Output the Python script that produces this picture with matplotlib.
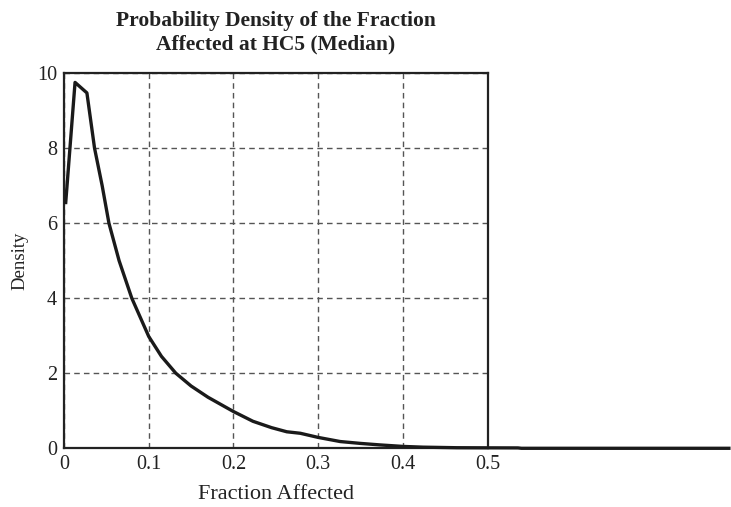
import matplotlib.pyplot as plt

# density of the fraction affected at HC5 (median)
fraction = [0.002, 0.013, 0.027, 0.036, 0.045, 0.053, 0.065, 0.080,
            0.100, 0.115, 0.132, 0.150, 0.170, 0.200, 0.223, 0.245,
            0.263, 0.279, 0.300, 0.326, 0.350, 0.373, 0.400, 0.424,
            0.464, 0.500, 0.536, 0.540, 0.785]
density = [6.55, 9.75, 9.47, 8.0, 7.0, 6.0, 5.0, 4.0,
           2.98, 2.45, 2.0, 1.66, 1.36, 0.98, 0.72, 0.55,
           0.44, 0.40, 0.29, 0.18, 0.13, 0.09, 0.05, 0.03,
           0.015, 0.012, 0.01, 0.0, 0.0]

xticks = [0, 0.1, 0.2, 0.3, 0.4, 0.5]
xtick_labels = ['0', '0.1', '0.2', '0.3', '0.4', '0.5']
yticks = [0, 2, 4, 6, 8, 10]

plt.rcParams['font.family'] = ['Liberation Serif', 'DejaVu Serif']

fig = plt.figure(figsize=(7.31, 5.07), dpi=100)
ax = fig.add_axes([0.0876, 0.1158, 0.5793, 0.7402])

# the curve runs on past the right edge of the frame
ax.plot(fraction, density, color='#1a1a1a', linewidth=2.4, clip_on=False, zorder=3)

ax.set_xlim(0, 0.5)
ax.set_ylim(0, 10)
ax.set_xticks(xticks)
ax.set_xticklabels(xtick_labels)
ax.set_yticks(yticks)
ax.tick_params(length=0, labelsize=14.5, pad=5, colors='#222222')

ax.grid(True, linestyle=(0, (4, 3)), color='#555555', linewidth=1.0)
for side in ax.spines.values():
    side.set_linewidth(1.6)
    side.set_color('#222222')

ax.set_title('Probability Density of the Fraction\nAffected at HC5 (Median)',
             fontsize=15.5, fontweight='bold', pad=17, linespacing=1.2,
             color='#222222')
ax.set_xlabel('Fraction Affected', fontsize=16, labelpad=8, color='#222222')
ax.set_ylabel('Density', fontsize=13.5, labelpad=6, color='#222222')

fig.savefig('out.png', dpi=100)
